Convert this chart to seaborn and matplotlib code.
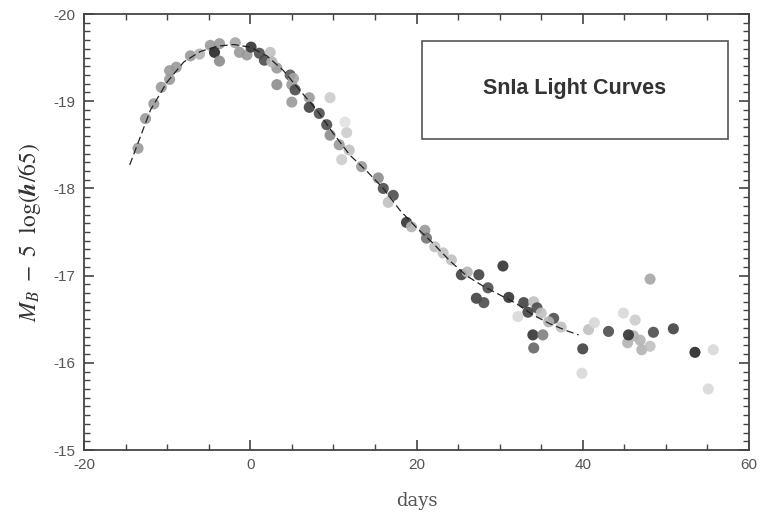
import numpy as np
import pandas as pd
import matplotlib
matplotlib.use("Agg")
import matplotlib.pyplot as plt
from matplotlib.patches import Rectangle
from matplotlib.ticker import MultipleLocator
import seaborn as sns

# Observed B-band points: rest-frame days from maximum, corrected magnitude, grey shade (0 = black, 1 = white)
days = [-13.5, -12.6, -11.6, -10.7, -9.7, -9.7, -8.9, -7.2, -6.1, -4.8,
        -3.7, -4.3, -3.7, -1.8, -1.3, -0.4, 0.1, 1.1, 1.7, 2.4,
        3.2, 3.2, 4.8, 5.0, 5.4, 5.0, 7.1, 7.1, 8.3, 9.6,
        9.2, 9.6, 11.6, 10.7, 11.9, 11.0, 13.4, 15.4, 16.0, 17.2,
        16.6, 18.8, 19.4, 21.0, 21.2, 22.2, 23.2, 24.2, 25.4, 26.1,
        27.5, 30.4, 28.6, 27.2, 28.1, 31.1, 32.9, 34.1, 33.4, 34.5,
        35.0, 32.2, 36.5, 34.0, 35.2, 34.1, 37.4, 35.9, 40.0, 39.9,
        40.7, 41.4, 43.1, 44.9, 46.3, 46.1, 45.4, 46.9, 47.1, 48.1,
        48.5, 48.1, 50.9, 53.5, 55.7, 55.1, 45.5, 11.4, 2.6, 5.2]
mags = [-18.46, -18.80, -18.97, -19.16, -19.25, -19.35, -19.39, -19.52, -19.54, -19.64,
        -19.66, -19.56, -19.46, -19.67, -19.56, -19.53, -19.62, -19.55, -19.47, -19.56,
        -19.19, -19.38, -19.30, -19.19, -19.13, -18.99, -19.04, -18.93, -18.86, -19.04,
        -18.73, -18.61, -18.64, -18.50, -18.44, -18.33, -18.25, -18.12, -18.00, -17.92,
        -17.84, -17.61, -17.56, -17.52, -17.43, -17.33, -17.26, -17.18, -17.01, -17.04,
        -17.01, -17.11, -16.86, -16.74, -16.69, -16.75, -16.69, -16.70, -16.58, -16.63,
        -16.57, -16.53, -16.51, -16.32, -16.32, -16.17, -16.41, -16.47, -16.16, -15.88,
        -16.38, -16.46, -16.36, -16.57, -16.49, -16.31, -16.23, -16.26, -16.15, -16.19,
        -16.35, -16.96, -16.39, -16.12, -16.15, -15.70, -16.32, -18.76, -19.45, -19.26]
shade = [0.60, 0.60, 0.60, 0.60, 0.60, 0.60, 0.60, 0.60, 0.70, 0.60,
         0.60, 0.15, 0.55, 0.65, 0.60, 0.60, 0.20, 0.30, 0.30, 0.75,
         0.55, 0.60, 0.35, 0.60, 0.30, 0.60, 0.60, 0.25, 0.30, 0.80,
         0.30, 0.55, 0.80, 0.60, 0.75, 0.80, 0.60, 0.55, 0.30, 0.30,
         0.75, 0.20, 0.70, 0.60, 0.45, 0.75, 0.75, 0.75, 0.25, 0.70,
         0.25, 0.20, 0.30, 0.25, 0.30, 0.20, 0.25, 0.75, 0.25, 0.30,
         0.75, 0.85, 0.30, 0.20, 0.50, 0.40, 0.75, 0.70, 0.25, 0.85,
         0.75, 0.85, 0.30, 0.85, 0.80, 0.70, 0.70, 0.70, 0.70, 0.75,
         0.30, 0.65, 0.25, 0.15, 0.85, 0.85, 0.20, 0.88, 0.70, 0.65]

# Template light curve
tmpl_day = [-14.5, -12, -10, -8, -6, -4, -2, 0, 2, 4, 6, 8, 10, 12, 14, 16, 18,
            20, 22, 24, 26, 28, 30, 32, 34, 36, 38, 39.5]
tmpl_mag = [-18.27, -18.90, -19.22, -19.45, -19.57, -19.63, -19.65, -19.62, -19.52,
            -19.35, -19.12, -18.90, -18.63, -18.38, -18.20, -18.00, -17.75, -17.55,
            -17.37, -17.17, -17.00, -16.88, -16.78, -16.68, -16.55, -16.45, -16.37,
            -16.32]

x_ticks = [-20, 0, 20, 40, 60]
y_ticks = [-20, -19, -18, -17, -16, -15]

sns.set_style("ticks")
plt.rcParams["axes.unicode_minus"] = False
plt.rcParams["mathtext.fontset"] = "stix"
plt.rcParams["font.family"] = ["Liberation Sans", "DejaVu Sans"]

obs = pd.DataFrame({"day": days, "mag": mags, "shade": shade})
tmpl = pd.DataFrame({"day": tmpl_day, "mag": tmpl_mag})

fig = plt.figure(figsize=(7.63, 5.15), dpi=100)
ax = fig.add_axes([84 / 763, 1 - 450 / 515, 665 / 763, 436 / 515])

sns.scatterplot(data=obs, x="day", y="mag", hue="shade", palette="gray",
                hue_norm=(0, 1), s=64, linewidth=0, alpha=0.9,
                legend=False, ax=ax, zorder=2)
sns.lineplot(data=tmpl, x="day", y="mag", sort=False, color="#222222",
             linewidth=0.9, linestyle=(0, (6, 3)), ax=ax, zorder=3)

ax.set_xlim(-20, 60)
ax.set_ylim(-15, -20)
ax.set_xticks(x_ticks)
ax.set_yticks(y_ticks)
ax.xaxis.set_minor_locator(MultipleLocator(5))
ax.yaxis.set_minor_locator(MultipleLocator(0.1))
ax.tick_params(axis="both", which="both", direction="in",
               top=True, right=True, color="#444444")
ax.tick_params(axis="both", which="major", length=7, width=1.2,
               labelsize=11, labelcolor="#555555", pad=6)
ax.tick_params(axis="both", which="minor", length=4, width=1.0)
for side in ax.spines.values():
    side.set_color("#444444")
    side.set_linewidth(1.3)

ax.set_xlabel("days", fontfamily="DejaVu Serif", fontsize=13,
              color="#555555", labelpad=14)
ax.set_ylabel(r"$M_B\ -\ 5\ \ \log(\boldsymbol{h}/65)$", fontsize=17,
              color="#333333", labelpad=8)

box = Rectangle((0.508, 0.713), 0.46, 0.225, transform=ax.transAxes,
                fill=False, edgecolor="#555555", linewidth=1.2, zorder=4)
ax.add_patch(box)
ax.text(0.738, 0.83, "SnIa Light Curves", transform=ax.transAxes,
        ha="center", va="center", fontsize=15.5, fontweight="bold",
        color="#333333", zorder=5)

fig.savefig("out.png", dpi=100)
